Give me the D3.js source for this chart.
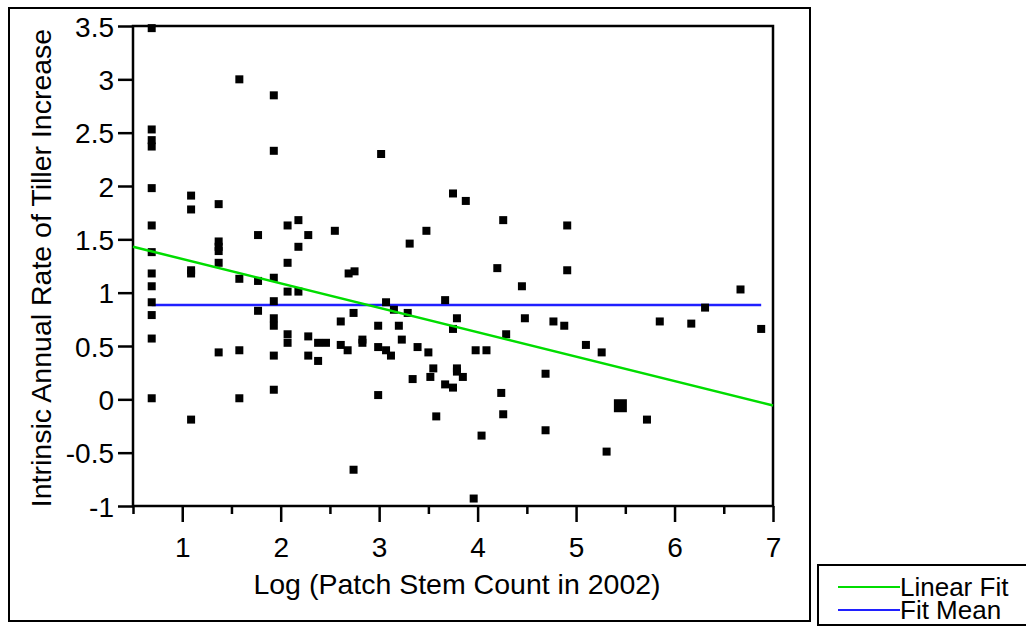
<!DOCTYPE html>
<html>
<head>
<meta charset="utf-8">
<script src="https://cdn.jsdelivr.net/npm/d3@7"></script>
<style>
  body { margin: 0; background: #fff; }
  svg { display: block; }
  text { font-family: "Liberation Sans", Arial, Helvetica, sans-serif; fill: #000; }
</style>
</head>
<body>
<svg id="chart" width="1026" height="629"></svg>
<script>
// Log of patch stem count in 2002 (x) and intrinsic annual rate of tiller increase (y)
const logStemCount = [
  0.69, 0.69, 0.69, 0.69, 0.69, 0.69, 0.69, 0.69, 0.69, 0.69, 0.69, 0.69, 0.69,
  1.09, 1.09, 1.09, 1.09, 1.09,
  1.37, 1.37, 1.37, 1.37, 1.37, 1.37,
  1.58, 1.58, 1.58, 1.58,
  1.77, 1.77, 1.77,
  1.93, 1.93, 1.93, 1.93, 1.93, 1.93, 1.93, 1.93,
  2.07, 2.07, 2.07, 2.07, 2.07,
  2.18, 2.18, 2.18,
  2.28, 2.28, 2.28,
  2.38, 2.38, 2.46, 2.55, 2.61, 2.61, 2.69, 2.68,
  2.75, 2.74, 2.74, 2.83, 2.83,
  2.99, 2.99, 2.99, 3.02, 3.07, 3.07, 3.12, 3.15, 3.20, 3.23, 3.29, 3.31, 3.34, 3.39,
  3.48, 3.50, 3.52, 3.55, 3.58, 3.67, 3.67, 3.75, 3.75, 3.75, 3.79, 3.79, 3.79,
  3.85, 3.88, 3.96, 3.98, 4.04, 4.09, 4.20, 4.24, 4.26, 4.26, 4.29, 4.45, 4.48,
  4.69, 4.69, 4.77, 4.88, 4.91, 4.91, 5.10, 5.26, 5.31, 5.72, 5.85, 6.17, 6.31,
  6.67, 6.88
];
const tillerRate = [
  3.48, 2.53, 2.43, 2.37, 1.98, 1.63, 1.38, 1.18, 1.06, 0.91, 0.79, 0.57, 0.01,
  1.91, 1.78, 1.21, 1.18, -0.19,
  1.83, 1.48, 1.43, 1.39, 1.28, 0.44,
  3.00, 1.13, 0.46, 0.01,
  1.54, 1.11, 0.83,
  2.85, 2.33, 1.14, 0.92, 0.76, 0.69, 0.41, 0.09,
  1.63, 1.28, 1.01, 0.61, 0.53,
  1.68, 1.43, 1.01,
  1.54, 0.59, 0.41,
  0.53, 0.36, 0.53, 1.58, 0.73, 0.51, 1.18, 0.46,
  1.20, 0.81, -0.66, 0.56, 0.53,
  0.69, 0.49, 0.04, 2.30, 0.91, 0.46, 0.41, 0.84, 0.69, 0.56, 0.81, 1.46, 0.19, 0.49,
  1.58, 0.44, 0.21, 0.29, -0.16, 0.93, 0.14, 1.93, 0.66, 0.11, 0.76, 0.29, 0.26,
  0.21, 1.86, -0.93, 0.46, -0.34, 0.46, 1.23, 0.06, 1.68, -0.14, 0.61, 1.06, 0.76,
  0.24, -0.29, 0.73, 0.69, 1.63, 1.21, 0.51, 0.44, -0.49, -0.19, 0.73, 0.71, 0.86,
  1.03, 0.66
];
// Two patches sharing the same coordinates (drawn as one heavier marker)
const stackedLogStemCount = [5.45];
const stackedTillerRate = [-0.06];

const xTicks = [1, 2, 3, 4, 5, 6, 7];
const xMinorTicks = [0.5, 1.5, 2.5, 3.5, 4.5, 5.5, 6.5];
const yTicks = [-1, -0.5, 0, 0.5, 1, 1.5, 2, 2.5, 3, 3.5];

// Fitted lines
const fitIntercept = 1.545;
const fitSlope = -0.229;
const fitMean = 0.885;

const legendLabels = ["Linear Fit", "Fit Mean"];
const legendColors = ["#00dd00", "#2020ff"];

const svg = d3.select("#chart");

// Outer frame
svg.append("rect").attr("x", 9).attr("y", 8).attr("width", 801).attr("height", 613)
  .attr("fill", "none").attr("stroke", "#000").attr("stroke-width", 2);

const plot = { left: 133, right: 773, top: 26, bottom: 506 };

const x = d3.scaleLinear().domain([0.5, 7]).range([plot.left, plot.right]);
const y = d3.scaleLinear().domain([-1, 3.5]).range([plot.bottom, plot.top]);

// Axes
const xAxis = svg.append("g").attr("transform", `translate(0,${plot.bottom})`)
  .call(d3.axisBottom(x).tickValues(xTicks).tickSize(16).tickSizeOuter(0).tickFormat(d => String(d)));
const xMinor = svg.append("g").attr("transform", `translate(0,${plot.bottom})`)
  .call(d3.axisBottom(x).tickValues(xMinorTicks).tickSize(8).tickSizeOuter(0).tickFormat(""));
const yAxis = svg.append("g").attr("transform", `translate(${plot.left},0)`)
  .call(d3.axisLeft(y).tickValues(yTicks).tickSize(15).tickSizeOuter(0).tickFormat(d => String(d)));

[xAxis, xMinor, yAxis].forEach(g => {
  g.select(".domain").remove();
  g.selectAll(".tick line").attr("stroke", "#000").attr("stroke-width", 2.5);
});
xAxis.selectAll(".tick text").attr("y", 51).attr("dy", null)
  .style("font-size", "28px").attr("fill", "#000");
yAxis.selectAll(".tick text").attr("x", -19).attr("dy", "0.36em")
  .style("font-size", "28px").attr("fill", "#000");

// Plot frame
svg.append("rect")
  .attr("x", plot.left).attr("y", plot.top)
  .attr("width", plot.right - plot.left).attr("height", plot.bottom - plot.top)
  .attr("fill", "none").attr("stroke", "#000").attr("stroke-width", 2.5);

// Axis titles
svg.append("text").attr("x", 457).attr("y", 594).attr("text-anchor", "middle")
  .style("font-size", "28.5px").text("Log (Patch Stem Count in 2002)");
svg.append("text").attr("transform", "translate(51,268) rotate(-90)").attr("text-anchor", "middle")
  .style("font-size", "28.5px").text("Intrinsic Annual Rate of Tiller Increase");

// Fit mean line spans the data range
const xExtent = d3.extent(logStemCount);
svg.append("line")
  .attr("x1", x(xExtent[0])).attr("x2", x(xExtent[1]))
  .attr("y1", y(fitMean)).attr("y2", y(fitMean))
  .attr("stroke", legendColors[1]).attr("stroke-width", 2.5);

// Points
const pts = logStemCount.map((v, i) => [v, tillerRate[i]]);
const s = 8;
svg.append("g").selectAll("rect").data(pts).join("rect")
  .attr("x", d => x(d[0]) - s / 2).attr("y", d => y(d[1]) - s / 2)
  .attr("width", s).attr("height", s).attr("fill", "#000");
const big = 13;
svg.append("g").selectAll("rect")
  .data(stackedLogStemCount.map((v, i) => [v, stackedTillerRate[i]])).join("rect")
  .attr("x", d => x(d[0]) - big / 2).attr("y", d => y(d[1]) - big / 2)
  .attr("width", big).attr("height", big).attr("fill", "#000");

// Linear fit across the whole axis
const fitDomain = x.domain();
svg.append("line")
  .attr("x1", x(fitDomain[0])).attr("x2", x(fitDomain[1]))
  .attr("y1", y(fitIntercept + fitSlope * fitDomain[0]))
  .attr("y2", y(fitIntercept + fitSlope * fitDomain[1]))
  .attr("stroke", legendColors[0]).attr("stroke-width", 2.5);

// Legend
const lg = svg.append("g");
lg.append("rect").attr("x", 818).attr("y", 565).attr("width", 215).attr("height", 60)
  .attr("fill", "none").attr("stroke", "#000").attr("stroke-width", 2);
legendLabels.forEach((lab, i) => {
  const cy = 587 + i * 23;
  lg.append("line").attr("x1", 838).attr("x2", 900).attr("y1", cy).attr("y2", cy)
    .attr("stroke", legendColors[i]).attr("stroke-width", 2);
  lg.append("text").attr("x", 900).attr("y", cy + 9).style("font-size", "26px").text(lab);
});
</script>
</body>
</html>
